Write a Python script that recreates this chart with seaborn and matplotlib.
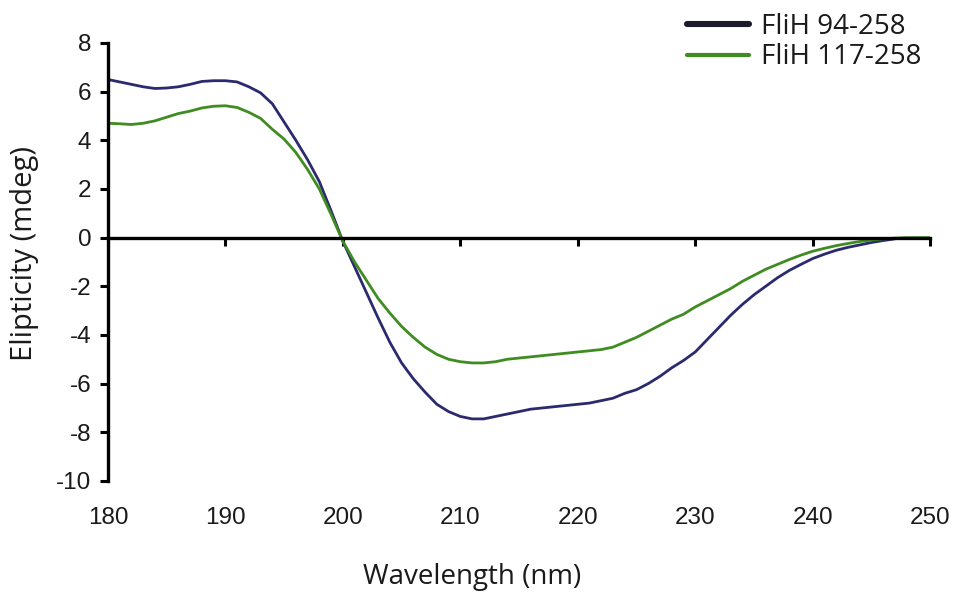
import numpy as np
import pandas as pd
import matplotlib
matplotlib.use("Agg")
import matplotlib.pyplot as plt
import matplotlib.transforms as mtransforms
from matplotlib.lines import Line2D
import seaborn as sns

# CD spectra of two FliH constructs (ellipticity in mdeg vs wavelength in nm)
wl_94 = list(range(180, 248))
ell_94 = [6.50, 6.40, 6.30, 6.20, 6.13, 6.15, 6.20, 6.30, 6.42, 6.45,
          6.45, 6.40, 6.20, 5.95, 5.50, 4.75, 4.00, 3.20, 2.30, 1.10,
          -0.15, -1.20, -2.25, -3.30, -4.30, -5.15, -5.80, -6.35, -6.85, -7.15,
          -7.35, -7.45, -7.45, -7.35, -7.25, -7.15, -7.05, -7.00, -6.95, -6.90,
          -6.85, -6.80, -6.70, -6.60, -6.40, -6.25, -6.00, -5.70, -5.35, -5.05,
          -4.70, -4.20, -3.70, -3.20, -2.75, -2.35, -2.00, -1.65, -1.35, -1.10,
          -0.86, -0.68, -0.52, -0.40, -0.30, -0.20, -0.12, -0.05]

wl_117 = list(range(180, 251))
ell_117 = [4.70, 4.68, 4.65, 4.70, 4.80, 4.95, 5.10, 5.20, 5.33, 5.40,
           5.42, 5.35, 5.15, 4.90, 4.45, 4.05, 3.50, 2.80, 2.00, 0.95,
           -0.15, -1.00, -1.75, -2.50, -3.10, -3.65, -4.10, -4.50, -4.80, -5.00,
           -5.10, -5.15, -5.15, -5.10, -5.00, -4.95, -4.90, -4.85, -4.80, -4.75,
           -4.70, -4.65, -4.60, -4.50, -4.30, -4.10, -3.85, -3.60, -3.35, -3.15,
           -2.85, -2.60, -2.35, -2.10, -1.80, -1.55, -1.30, -1.10, -0.90, -0.72,
           -0.56, -0.44, -0.33, -0.24, -0.16, -0.10, -0.05, -0.02, 0.00, 0.00,
           0.00]

series_names = ["FliH 94-258", "FliH 117-258"]
x_ticks = [180, 190, 200, 210, 220, 230, 240, 250]
y_ticks = [8, 6, 4, 2, 0, -2, -4, -6, -8, -10]

df = pd.concat([
    pd.DataFrame({"Wavelength": wl_94, "Ellipticity": ell_94, "Construct": series_names[0]}),
    pd.DataFrame({"Wavelength": wl_117, "Ellipticity": ell_117, "Construct": series_names[1]}),
])

sns.set_theme(style="white")
plt.rcParams["font.family"] = ["Liberation Sans", "DejaVu Sans"]

navy = "#2b2a6e"
green = "#3f8c20"
label_font = ["Open Sans", "DejaVu Sans"]

fig = plt.figure(figsize=(9.55, 5.93), dpi=100)
ax = fig.add_axes([0.113, 0.189, 0.861, 0.7385])

sns.lineplot(data=df, x="Wavelength", y="Ellipticity", hue="Construct",
             palette={series_names[0]: navy, series_names[1]: green},
             linewidth=2.0, legend=False, ax=ax)

ax.set_xlim(180, 250)
ax.set_ylim(-10, 8)

# axis lines: left spine plus a zero line carrying the x ticks
for s in ["top", "right"]:
    ax.spines[s].set_visible(False)
ax.spines["bottom"].set_position(("data", 0))
for s in ["left", "bottom"]:
    ax.spines[s].set_color("black")
    ax.spines[s].set_linewidth(2.4)

ax.set_xticks(x_ticks)
ax.set_yticks(y_ticks)
ax.set_xticklabels([])
ax.set_yticklabels([str(v) for v in y_ticks], fontsize=17.5, color="#1a1a1a")
ax.tick_params(axis="x", direction="out", length=6, width=2.2, color="black",
               bottom=True)
ax.tick_params(axis="y", direction="out", length=6, width=2.2, color="black",
               left=True, pad=6)

# wavelength labels sit below the plotting area
trans = mtransforms.blended_transform_factory(ax.transData, ax.transAxes)
for xv in x_ticks:
    ax.text(xv, -0.085, str(xv), transform=trans, ha="center", va="center",
            fontsize=17.5, color="#1a1a1a")

ax.set_xlabel("")
ax.set_ylabel("")
fig.text(0.494, 0.027, "Wavelength (nm)", ha="center", va="center",
         fontsize=20, color="#1a1a1a", family=label_font)
fig.text(0.026, 0.573, "Elipticity (mdeg)", ha="center", va="center",
         rotation=90, fontsize=21, color="#1a1a1a", family=label_font)

handles = [Line2D([0], [0], color="#1b1b2c", lw=4.4),
           Line2D([0], [0], color=green, lw=3.0)]
leg = fig.legend(handles, series_names, loc="upper right",
                 bbox_to_anchor=(0.965, 0.978), frameon=False,
                 borderaxespad=0.0, borderpad=0.0,
                 handlelength=2.2, handletextpad=0.45, labelspacing=0.08,
                 prop={"family": label_font, "size": 20})
for t in leg.get_texts():
    t.set_color("#1a1a1a")

fig.savefig("out.png", dpi=100, facecolor="white")
